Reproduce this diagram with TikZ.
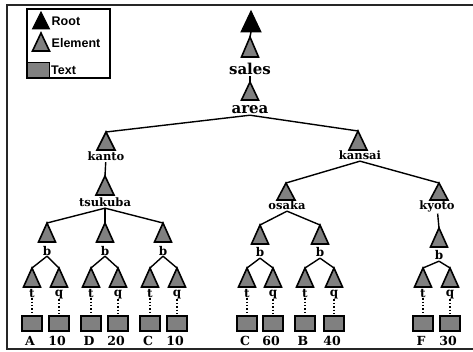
\documentclass[tikz,border=0pt]{standalone}
\usepackage{fontspec}
\setmainfont{DejaVu Serif}
\newfontfamily\keyfont{Liberation Sans}
\newfontfamily\treefont{DejaVu Serif}

% triangle marker: style, name of apex coordinate, x, apex y, half width, height
\newcommand\tri[6]{%
  \coordinate (#2) at (#3,#4);
  \draw[#1] (#3-#5,#4+#6) -- (#2) -- (#3+#5,#4+#6) -- cycle;}

\tikzset{
  frameline/.style={line width=1.3pt, draw=black!85},
  keybox/.style={line width=1.3pt, draw=black},
  roottri/.style={draw=black, fill=black, line width=1pt, line join=miter},
  elemtri/.style={draw=black, fill=black!50, line width=1.6pt, line join=miter},
  textbox/.style={draw=black, fill=black!50, line width=1.5pt,
    minimum width=20pt, minimum height=15pt, inner sep=0pt},
  keytext/.style={font=\keyfont\bfseries\fontsize{12.5}{12.5}\selectfont, inner sep=0.5pt, anchor=west},
  biglbl/.style={font=\treefont\bfseries\fontsize{15}{15}\selectfont, inner sep=0.8pt, anchor=base},
  lbl/.style={font=\treefont\bfseries\fontsize{11.5}{11.5}\selectfont, inner sep=0.8pt, anchor=base},
  leaflbl/.style={font=\treefont\bfseries\fontsize{12}{12}\selectfont, inner sep=0.8pt, anchor=base},
  vallbl/.style={font=\treefont\bfseries\fontsize{12.5}{12.5}\selectfont, inner sep=0.5pt, anchor=base},
  edge/.style={line width=1.4pt, draw=black},
  dots/.style={line width=1.4pt, draw=black, dotted},
}

\begin{document}
\begin{tikzpicture}[x=1pt, y=-1pt]
\useasboundingbox (0,0) rectangle (473,352);

% page frame
\draw[frameline] (473,5) -- (7,5) -- (7,349) -- (473,349);

% key
\draw[keybox] (27,9) rectangle (110,78);
\tri{roottri}{key-root}{41}{12}{8.5}{17}
\node[keytext] (key-root-txt) at (51,21) {Root};
\tri{elemtri}{key-elem}{41}{33}{8.5}{18}
\node[keytext] (key-elem-txt) at (51,43) {Element};
\node[textbox, minimum width=22pt] (key-text) at (38.5,70) {};
\node[keytext] (key-text-txt) at (50.5,70) {Text};

% root and upper chain
\tri{roottri}{root}{251}{11}{10}{21}
\coordinate (root-base) at (251,32);
\tri{elemtri}{sales-top}{250}{37}{8.5}{20}
\node[biglbl] (sales) at (250,75) {sales};
\tri{elemtri}{area-top}{250}{82}{8.5}{18}
\node[biglbl] (area) at (250,114) {area};
\draw[edge] (root-base) -- (sales-top);
\draw[edge] (sales) -- (area-top);

% regions
\tri{elemtri}{kanto-top}{106}{132}{9}{18}
\node[lbl] (kanto) at (106,161) {kanto};
\tri{elemtri}{kansai-top}{358}{131}{9}{19}
\node[lbl] (kansai) at (360,160) {kansai};
\draw[edge] (area.south) -- (kanto-top);
\draw[edge] (area.south) -- (kansai-top);

% cities
\tri{elemtri}{tsukuba-top}{105}{176}{9}{19}
\node[lbl] (tsukuba) at (105,207) {tsukuba};
\draw[edge] (kanto) -- (tsukuba-top);
\tri{elemtri}{osaka-top}{286}{183}{9}{17}
\node[lbl] (osaka) at (287,210) {osaka};
\tri{elemtri}{kyoto-top}{439}{183}{9}{17}
\node[lbl] (kyoto) at (437,210) {kyoto};
\draw[edge] (kansai.south) -- (osaka-top);
\draw[edge] (kansai.south) -- (kyoto-top);

% b elements
\foreach \n/\x/\y in {b1/47/223, b2/105/223, b3/163/223, b4/260/225, b5/320/225, b6/439/228} {
  \tri{elemtri}{\n-top}{\x}{\y}{8.5}{19}
  \node[leaflbl] (\n) at (\x,\y+32) {b};
}
\draw[edge] (tsukuba.south) -- (b1-top);
\draw[edge] (tsukuba.south) -- (b2-top);
\draw[edge] (tsukuba.south) -- (b3-top);
\draw[edge] (osaka.south) -- (b4-top);
\draw[edge] (osaka.south) -- (b5-top);
\draw[edge] (kyoto) -- (b6-top);

% t / q elements with their text leaves
\foreach \p/\tx/\qx/\tv/\qv in {b1/32/59/A/10, b2/91/118/D/20, b3/150/177/C/10,
                                b4/247/273/C/60, b5/305/334/B/40, b6/423/450/F/30} {
  \tri{elemtri}{\p t-top}{\tx}{268}{8.5}{19}
  \tri{elemtri}{\p q-top}{\qx}{268}{8.5}{19}
  \node[leaflbl] (\p t) at (\tx,297) {t};
  \node[leaflbl] (\p q) at (\qx,296) {q};
  \node[textbox] (\p t-box) at (\tx,323.5) {};
  \node[textbox] (\p q-box) at (\qx,323.5) {};
  \node[vallbl] (\p t-val) at (\tx-2,345.5) {\tv};
  \node[vallbl] (\p q-val) at (\qx-2,345.5) {\qv};
  \draw[edge] (\p.south) -- (\p t-top);
  \draw[edge] (\p.south) -- (\p q-top);
  \draw[dots] (\p t) -- (\p t-box);
  \draw[dots] (\p q) -- (\p q-box);
}
\end{tikzpicture}
\end{document}
